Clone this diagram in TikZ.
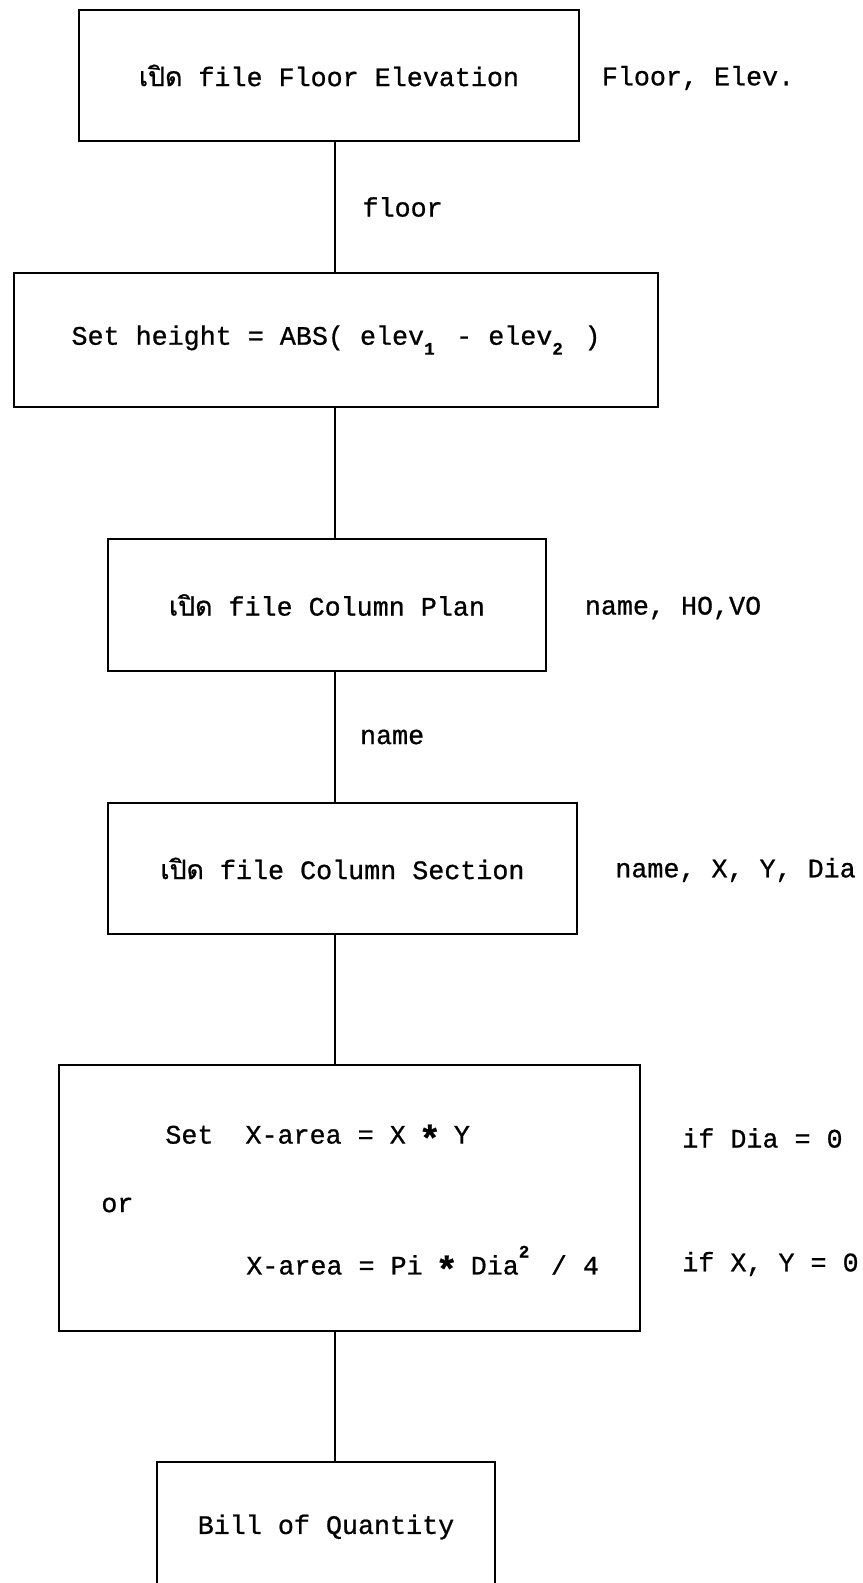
\documentclass[tikz,border=0pt]{standalone}
\usepackage{fontspec}
\setmainfont{Liberation Mono}[FakeBold=0.8]
\newfontfamily\thaifont[Script=Thai,FakeBold=0.8]{Loma}
\newcommand{\lowidx}[1]{\makebox[0.6em][l]{\raisebox{-0.7ex}{\fontsize{10}{10}\selectfont\bfseries #1}}}
\newcommand{\highidx}[1]{\makebox[0.6em][l]{\raisebox{1.2ex}{\fontsize{10}{10}\selectfont\bfseries #1}}}
\newcommand{\mulstar}{\makebox[0.6em]{\raisebox{-0.55ex}{\fontsize{21}{21}\selectfont\bfseries *}}}
\newcommand{\poed}{{\thaifont เปิด}}

\tikzset{
	procbox/.style={draw, line width=1.2pt, inner sep=0pt},
	sidetext/.style={inner sep=0pt, anchor=west},
	link/.style={line width=1.2pt},
}

\begin{document}
\begin{tikzpicture}[every node/.style={font=\fontsize{15.2}{18}\selectfont}]
	 \useasboundingbox (0,0) rectangle (17.26,-31.66);
	 \clip (0,0) rectangle (17.26,-31.66);
	 \coordinate (spine) at (6.70,0);
	 %
	 \node (floorfile) at (6.58,-1.51) [procbox,minimum width=10cm,minimum height=2.62cm] {\poed\ file Floor Elevation};
	 %
	 \node (height) at (6.72,-6.80) [procbox,minimum width=12.88cm,minimum height=2.68cm] {Set height = ABS( elev\lowidx{1} - elev\lowidx{2} )};
	 %
	 \node (colplan) at (6.54,-12.10) [procbox,minimum width=8.76cm,minimum height=2.64cm] {\poed\ file Column Plan};
	 %
	 \node (colsect) at (6.85,-17.37) [procbox,minimum width=9.38cm,minimum height=2.62cm] {\poed\ file Column Section};
	 %
	 \node (xarea) at (6.99,-23.96) [procbox,minimum width=11.62cm,minimum height=5.32cm] {};
	 %
	 \node (bill) at (6.52,-30.54) [procbox,minimum width=6.76cm,minimum height=2.60cm] {Bill of Quantity};
	 %
	 %Daten rechts
	 \node (floorvars) at (12.03,-1.56) [sidetext] {Floor, Elev.};
	 \node (planvars) at (11.69,-12.16) [sidetext] {name, HO,VO};
	 \node (sectvars) at (12.30,-17.40) [sidetext] {name, X, Y, Dia};
	 %
	 %X-area
	 \node (rectarea) at (3.30,-22.76) [sidetext] {Set\ \ X-area = X \mulstar{} Y};
	 \node (ortext) at (2.02,-24.10) [sidetext] {or};
	 \node (roundarea) at (4.92,-25.28) [sidetext] {X-area = Pi \mulstar{} Dia\highidx{2} / 4};
	 \node (rectcond) at (13.64,-22.76) [sidetext] {if Dia = 0};
	 \node (roundcond) at (13.64,-25.28) [sidetext] {if X, Y = 0};
	 %
	 %Floor Elevation - height
	 \draw[link] (floorfile.south -| spine) -- node[sidetext,right=0.53cm]{floor} (height.north -| spine);
	 %
	 %height - Column Plan
	 \draw[link] (height.south -| spine) -- (colplan.north -| spine);
	 %
	 %Column Plan - Column Section
	 \draw[link] (colplan.south -| spine) -- node[sidetext,right=0.48cm]{name} (colsect.north -| spine);
	 %
	 %Column Section - X-area
	 \draw[link] (colsect.south -| spine) -- (xarea.north -| spine);
	 %
	 %X-area - Bill
	 \draw[link] (xarea.south -| spine) -- (bill.north -| spine);
\end{tikzpicture}
\end{document}
